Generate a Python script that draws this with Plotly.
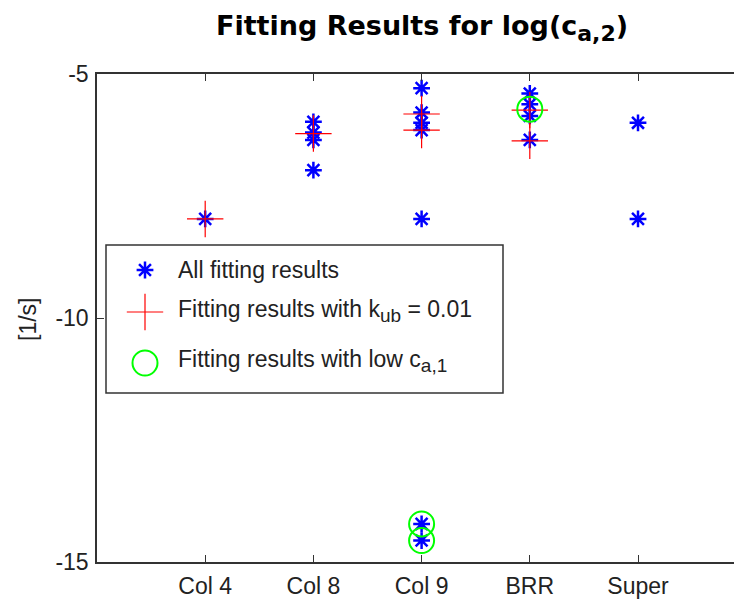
import plotly.graph_objects as go

# ---- data ----
categories = ["Col 4", "Col 8", "Col 9", "BRR", "Super"]
cat_pos = [1, 2, 3, 4, 5]

all_x = [1, 2, 2, 2, 2, 3, 3, 3, 3, 3, 3, 3, 4, 4, 4, 4, 5, 5]
all_y = [-7.97,
         -5.98, -6.20, -6.35, -6.97,
         -5.29, -5.79, -6.00, -6.15, -7.97, -14.22, -14.56,
         -5.40, -5.62, -5.86, -6.35,
         -6.00, -7.97]

kub_x = [1, 2, 3, 3, 4, 4]
kub_y = [-7.97, -6.22, -5.82, -6.15, -5.74, -6.37]

low_x = [3, 3, 4]
low_y = [-14.22, -14.56, -5.72]

y_ticks = [-15, -10, -5]
y_ticktext = ["-15", "-10", "-5"]

SUB = '<sub><span style="font-size:{}px">{}</span></sub>'
FS = 23
legend_labels = ["All fitting results",
                 "Fitting results with k" + SUB.format(19, "ub") + " = 0.01",
                 "Fitting results with low c" + SUB.format(19, "a,1")]
title_text = "<b>Fitting Results for log(c" + SUB.format(22, "a,2") + ")</b>"

FONT = "Liberation Sans, Arial, Helvetica, sans-serif"
TFONT = "DejaVu Sans, Liberation Sans, Arial, sans-serif"
W, H = 734, 601
L, R, T, B = 97, 0, 74, 39
px_per_unit = 108.2
x_right = (W - L - R) / px_per_unit
plot_w = W - L - R
plot_h = H - T - B


def px_to_paper(px, py):
    return (px - L) / plot_w, (H - B - py) / plot_h


star = dict(symbol="asterisk-open", size=14, color="#0000FF",
            line=dict(color="#0000FF", width=2.5))
plus = dict(symbol="cross-thin-open", size=26, color="#FF0000",
            line=dict(color="#FF0000", width=1.2))
circ = dict(symbol="circle-open", size=25, color="#00FF00",
            line=dict(color="#00FF00", width=2))

fig = go.Figure()
fig.add_trace(go.Scatter(x=all_x, y=all_y, mode="markers", marker=star,
                         name="All fitting results", showlegend=False))
fig.add_trace(go.Scatter(x=kub_x, y=kub_y, mode="markers", marker=plus,
                         name="kub = 0.01", showlegend=False))
fig.add_trace(go.Scatter(x=low_x, y=low_y, mode="markers", marker=circ,
                         name="low ca1", showlegend=False))

# ---- hand-made legend on a pixel-coordinate overlay axis ----
leg_sym_x = 145
leg_rows_y = [270, 312, 363]
leg_text_y = [270, 311, 361]
for mk, yy in zip([star, plus, circ], leg_rows_y):
    fig.add_trace(go.Scatter(x=[leg_sym_x], y=[yy], mode="markers", marker=mk,
                             xaxis="x2", yaxis="y2", showlegend=False,
                             hoverinfo="skip"))

annotations = []
for lab, yy in zip(legend_labels, leg_text_y):
    annotations.append(dict(x=176, y=yy, xref="x2", yref="y2", text=lab,
                            showarrow=False, xanchor="left", yanchor="middle",
                            font=dict(family=FONT, size=FS, color="#222")))
# y-axis title
ax, ay = px_to_paper(28, 320)
annotations.append(dict(x=ax, y=ay, xref="paper", yref="paper", text="[1/s]",
                        showarrow=False, textangle=-90, xanchor="center",
                        yanchor="middle",
                        font=dict(family=FONT, size=FS, color="#222")))
# title
tx, ty = px_to_paper(422, 28)
annotations.append(dict(x=tx, y=ty, xref="paper", yref="paper",
                        text=title_text,
                        showarrow=False, xanchor="center", yanchor="middle",
                        font=dict(family=TFONT, size=27, color="#000")))

shapes = [dict(type="rect", xref="x2", yref="y2", x0=106, x1=503, y0=245, y1=393,
               line=dict(color="#333", width=1.5), fillcolor="white", layer="below")]

fig.update_layout(
    width=W, height=H,
    margin=dict(l=L, r=R, t=T, b=B),
    paper_bgcolor="white", plot_bgcolor="white",
    font=dict(family=FONT, size=FS, color="#222"),
    showlegend=False,
    annotations=annotations,
    shapes=shapes,
    xaxis=dict(range=[0, x_right], tickvals=cat_pos, ticktext=categories,
               ticks="inside", ticklen=7, tickcolor="#333", showline=True,
               linecolor="#333", linewidth=1.5, mirror="ticks", showgrid=False,
               zeroline=False, ticklabelstandoff=3,
               tickfont=dict(family=FONT, size=FS, color="#222")),
    yaxis=dict(range=[-15, -5], tickvals=y_ticks, ticktext=y_ticktext,
               ticks="inside", ticklen=7, tickcolor="#333", showline=True,
               linecolor="#333", linewidth=1.5, mirror=False, showgrid=False,
               zeroline=False, ticklabelstandoff=2,
               tickfont=dict(family=FONT, size=FS, color="#222")),
    xaxis2=dict(range=[L, W - R], overlaying="x", visible=False, fixedrange=True),
    yaxis2=dict(range=[H - B, T], overlaying="y", visible=False, fixedrange=True),
)

fig.write_html("out.html")
